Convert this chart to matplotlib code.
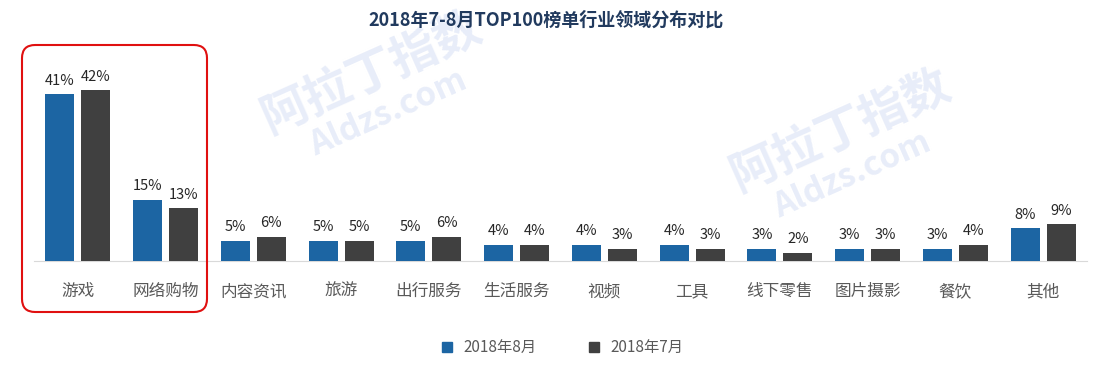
import matplotlib.pyplot as plt
from matplotlib.patches import FancyBboxPatch
import numpy as np

plt.rcParams['font.family'] = ['Noto Sans CJK SC', 'DejaVu Sans']

categories = ['游戏', '网络购物', '内容资讯', '旅游', '出行服务', '生活服务',
              '视频', '工具', '线下零售', '图片摄影', '餐饮', '其他']
aug = [41, 15, 5, 5, 5, 4, 4, 4, 3, 3, 3, 8]
jul = [42, 13, 6, 5, 6, 4, 3, 3, 2, 3, 4, 9]
series_names = ['2018年8月', '2018年7月']
colors = ['#1c65a3', '#404040']

fig = plt.figure(figsize=(10.93, 3.65), dpi=100)

# faint watermark
wm = '#e8edf9'
fig.text(0.34, 0.80, '阿拉丁指数', fontsize=34, fontweight='bold', color=wm,
         rotation=24, ha='center', va='center', zorder=0)
fig.text(0.355, 0.69, 'Aldzs.com', fontsize=24, fontweight='bold', color=wm,
         rotation=24, ha='center', va='center', zorder=0)
fig.text(0.77, 0.64, '阿拉丁指数', fontsize=34, fontweight='bold', color=wm,
         rotation=24, ha='center', va='center', zorder=0)
fig.text(0.78, 0.52, 'Aldzs.com', fontsize=24, fontweight='bold', color=wm,
         rotation=24, ha='center', va='center', zorder=0)

ax = fig.add_axes([34 / 1093, 104 / 365, 1053 / 1093, 183 / 365])
ax.patch.set_alpha(0)

x = np.arange(len(categories))
w = 0.33
b1 = ax.bar(x - 0.205, aug, w, color=colors[0], label=series_names[0], zorder=3)
b2 = ax.bar(x + 0.205, jul, w, color=colors[1], label=series_names[1], zorder=3)
for bars, vals in ((b1, aug), (b2, jul)):
    for r, v in zip(bars, vals):
        ax.text(r.get_x() + r.get_width() / 2, v + 1.6, f'{v}%', ha='center',
                va='bottom', fontsize=10.5, color='#262626')

ax.set_xlim(-0.5, len(categories) - 0.5)
ax.set_ylim(0, 45)
ax.set_yticks([])
ax.set_xticks(x)
ax.set_xticklabels(categories, fontsize=12, color='#595959')
ax.tick_params(axis='x', length=0, pad=16)
for s in ['top', 'right', 'left']:
    ax.spines[s].set_visible(False)
ax.spines['bottom'].set_color('#d9d9d9')

fig.text(0.5, 0.945, '2018年7-8月TOP100榜单行业领域分布对比', ha='center', va='center',
         fontsize=13, fontweight='bold', color='#213a5e')

h = [plt.Line2D([], [], marker='s', linestyle='', color=c, markersize=7) for c in colors]
fig.legend(h, series_names, loc='center', bbox_to_anchor=(0.51, 0.048), ncol=2,
           frameon=False, fontsize=11, handletextpad=0.05, columnspacing=2.8,
           labelcolor='#595959')

# red highlight box
box = FancyBboxPatch((22 / 1093, (365 - 312) / 365), 185 / 1093, 267 / 365,
                     boxstyle='round,pad=0,rounding_size=0.012',
                     transform=fig.transFigure, fill=False, edgecolor='#e01010',
                     linewidth=1.5, mutation_aspect=3.0)
fig.patches.append(box)

fig.savefig('out.png', dpi=100)
